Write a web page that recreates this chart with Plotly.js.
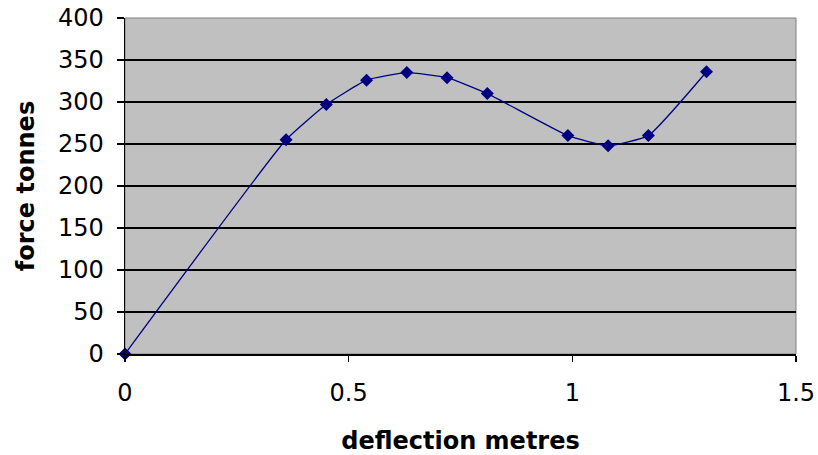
<!DOCTYPE html>
<html>
<head>
<meta charset="utf-8">
<script src="https://cdn.plot.ly/plotly-3.0.1.min.js"></script>
<style>html,body{margin:0;padding:0;background:#fff;}#chart{width:818px;height:455px;}</style>
</head>
<body>
<div id="chart"></div>
<script>
const deflection = [0, 0.36, 0.45, 0.54, 0.63, 0.72, 0.81, 0.99, 1.08, 1.17, 1.30];
const force = [0, 255, 297, 326, 335, 329, 310, 260, 248, 260, 336];
const xTicks = [0, 0.5, 1, 1.5];
const xTickLabels = ['0', '0.5', '1', '1.5'];
const yTicks = [0, 50, 100, 150, 200, 250, 300, 350, 400];
const yTickLabels = ['0', '50', '100', '150', '200', '250', '300', '350', '400'];

const trace = {
  x: deflection, y: force, type: 'scatter', mode: 'lines+markers',
  line: {color: '#000080', width: 1.3, shape: 'spline', smoothing: 0.4},
  marker: {symbol: 'diamond', size: 10, color: '#000080'},
  cliponaxis: false, hoverinfo: 'none'
};

const tickFont = {family: 'DejaVu Sans, Arial, sans-serif', size: 24, color: '#000'};
const titleFont = {family: 'DejaVu Sans, Arial, sans-serif', size: 24, color: '#000', weight: 'bold'};

const layout = {
  width: 818, height: 455,
  margin: {l: 125, r: 22, t: 18, b: 101},
  paper_bgcolor: '#fff', plot_bgcolor: '#c0c0c0',
  showlegend: false,
  xaxis: {
    range: [0, 1.5], tickvals: xTicks, ticktext: xTickLabels,
    showgrid: false, zeroline: false,
    showline: true, linecolor: '#000', linewidth: 1.5,
    ticks: 'outside', ticklen: 6, tickcolor: '#000', tickwidth: 1.5,
    tickfont: tickFont, ticklabelstandoff: 11,
    title: {text: 'deflection metres', font: titleFont, standoff: 26}
  },
  yaxis: {
    range: [0, 400], tickvals: yTicks, ticktext: yTickLabels,
    showgrid: true, gridcolor: '#000', gridwidth: 1.5,
    zeroline: false,
    showline: true, linecolor: '#000', linewidth: 1.5,
    ticks: 'outside', ticklen: 7, tickcolor: '#000', tickwidth: 1.5,
    tickfont: tickFont, ticklabelstandoff: 8,
    title: {text: 'force tonnes', font: titleFont, standoff: 16}
  },
  shapes: [{
    type: 'rect', xref: 'paper', yref: 'paper', x0: 0, x1: 1, y0: 0, y1: 1,
    line: {color: '#808080', width: 1}, layer: 'below'
  }]
};

Plotly.newPlot('chart', [trace], layout, {staticPlot: true, displayModeBar: false});
</script>
</body>
</html>
